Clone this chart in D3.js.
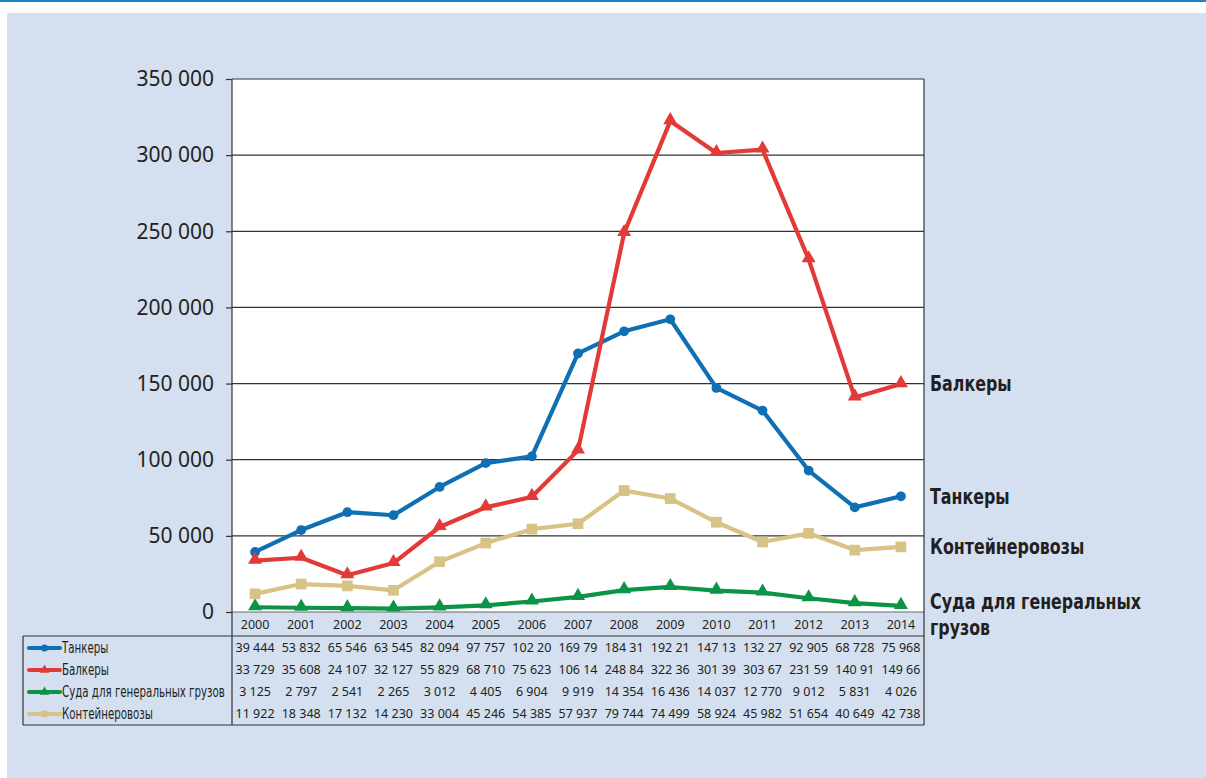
<!DOCTYPE html>
<html>
<head>
<meta charset="utf-8">
<script src="https://cdn.jsdelivr.net/npm/d3@7"></script>
<style>
  body { margin: 0; background: #fff; }
  svg { display: block; }
  .num { font-family: "Noto Sans", sans-serif; }
  .cond { font-family: "DejaVu Sans Condensed", "DejaVu Sans", sans-serif; }
</style>
</head>
<body>
<div id="content"></div>
<script>
var years = [2000, 2001, 2002, 2003, 2004, 2005, 2006, 2007, 2008, 2009, 2010, 2011, 2012, 2013, 2014];

var tankers = [39444, 53832, 65546, 63545, 82094, 97757, 102200, 169790, 184310, 192210, 147130, 132270, 92905, 68728, 75968];
var bulkers = [33729, 35608, 24107, 32127, 55829, 68710, 75623, 106140, 248840, 322360, 301390, 303670, 231590, 140910, 149660];
var generalCargo = [3125, 2797, 2541, 2265, 3012, 4405, 6904, 9919, 14354, 16436, 14037, 12770, 9012, 5831, 4026];
var containers = [11922, 18348, 17132, 14230, 33004, 45246, 54385, 57937, 79744, 74499, 58924, 45982, 51654, 40649, 42738];

var yTicks = [0, 50000, 100000, 150000, 200000, 250000, 300000, 350000];

// table row order
var series = [
    { name: "Танкеры", values: tankers, color: "#0f6fb4", marker: "circle" },
    { name: "Балкеры", values: bulkers, color: "#e23a37", marker: "triangle" },
    { name: "Суда для генеральных грузов", values: generalCargo, color: "#0b9447", marker: "triangle" },
    { name: "Контейнеровозы", values: containers, color: "#d8c285", marker: "square" }
];

// labels on the right side of the plot
var endLabels = [
    { lines: ["Балкеры"], values: bulkers },
    { lines: ["Танкеры"], values: tankers },
    { lines: ["Контейнеровозы"], values: containers },
    { lines: ["Суда для генеральных", "грузов"], values: generalCargo, dy: -4 }
];

var width = 1206, height = 778;
var plot = { left: 232, right: 924, top: 79, bottom: 612 };
var table = { left: 23, top: 636, rowH: 22 };

var fmt = d3.formatLocale({ decimal: ",", thousands: " ", grouping: [3], currency: ["", ""] }).format(",d");

var svg = d3.select("#content").append("svg")
    .attr("width", width)
    .attr("height", height);

// page background
svg.append("rect").attr("x", 0).attr("y", 0).attr("width", width).attr("height", 2).attr("fill", "#1c86c4");
svg.append("rect").attr("x", 7).attr("y", 13).attr("width", width - 7).attr("height", height - 13).attr("fill", "#d4dff0");

var xScale = d3.scaleBand()
    .domain(years)
    .range([plot.left, plot.right]);

var yScale = d3.scaleLinear()
    .domain([0, 350000])
    .range([plot.bottom, plot.top]);

svg.append("rect")
    .attr("x", plot.left).attr("y", plot.top)
    .attr("width", plot.right - plot.left).attr("height", plot.bottom - plot.top)
    .attr("fill", "#fff");

// grid lines + y axis
var yAxis = d3.axisLeft(yScale)
    .tickValues(yTicks)
    .tickSize(6)
    .tickPadding(12)
    .tickFormat(fmt);

var yg = svg.append("g")
    .attr("transform", "translate(" + plot.left + ",0)")
    .call(yAxis);
yg.select(".domain").remove();
yg.selectAll(".tick line").attr("stroke", "#333").attr("stroke-width", 1.2);
yg.selectAll(".tick text")
    .attr("class", "num")
    .attr("fill", "#231f20")
    .style("font-size", "21px");

svg.append("g")
    .selectAll("line")
    .data(yTicks)
    .enter()
    .append("line")
    .attr("x1", plot.left).attr("x2", plot.right)
    .attr("y1", function (d) { return yScale(d); })
    .attr("y2", function (d) { return yScale(d); })
    .attr("stroke", function (d) { return d == 0 ? "#666" : "#333"; })
    .attr("stroke-width", 1.2);

// table frame
var tableBottom = table.top + series.length * table.rowH + 1;
var frame = svg.append("g").attr("stroke", "#333").attr("stroke-width", 1.2).attr("fill", "none");
frame.append("line").attr("x1", plot.left).attr("x2", plot.left).attr("y1", plot.top).attr("y2", tableBottom);
frame.append("line").attr("x1", plot.right).attr("x2", plot.right).attr("y1", plot.top).attr("y2", tableBottom);
frame.append("line").attr("x1", table.left).attr("x2", plot.right).attr("y1", table.top).attr("y2", table.top);
frame.append("line").attr("x1", table.left).attr("x2", plot.right).attr("y1", tableBottom).attr("y2", tableBottom);
frame.append("line").attr("x1", table.left).attr("x2", table.left).attr("y1", table.top).attr("y2", tableBottom);

// x axis: years row
var xAxis = d3.axisBottom(xScale).tickSize(0).tickPadding(8);
var xg = svg.append("g")
    .attr("transform", "translate(0," + plot.bottom + ")")
    .call(xAxis);
xg.select(".domain").remove();
xg.selectAll(".tick text")
    .attr("class", "num")
    .attr("fill", "#231f20")
    .style("font-size", "12.5px");

function markerPath(type, size) {
    var sym = type == "circle" ? d3.symbolCircle : (type == "triangle" ? d3.symbolTriangle : d3.symbolSquare);
    return d3.symbol().type(sym).size(size)();
}

var markerSize = { circle: 75, triangle: 85, square: 115 };

var line = d3.line()
    .x(function (d, i) { return xScale(years[i]) + xScale.bandwidth() / 2; })
    .y(function (d) { return yScale(d); });

// draw in back-to-front order
var drawOrder = [series[2], series[3], series[0], series[1]];
drawOrder.forEach(function (s) {
    var g = svg.append("g");
    g.append("path")
        .datum(s.values)
        .attr("fill", "none")
        .attr("stroke", s.color)
        .attr("stroke-width", 4.2)
        .attr("stroke-linejoin", "round")
        .attr("d", line);
    g.selectAll("path.m")
        .data(s.values)
        .enter()
        .append("path")
        .attr("class", "m")
        .attr("fill", s.color)
        .attr("transform", function (d, i) {
            var dy = s.marker == "triangle" ? -1 : 0;
            return "translate(" + (xScale(years[i]) + xScale.bandwidth() / 2) + "," + (yScale(d) + dy) + ")";
        })
        .attr("d", markerPath(s.marker, markerSize[s.marker]));
});

// table rows
series.forEach(function (s, r) {
    var cy = table.top + table.rowH * r + 12;
    var row = svg.append("g");
    row.append("line")
        .attr("x1", 29).attr("x2", 60)
        .attr("y1", cy).attr("y2", cy)
        .attr("stroke", s.color).attr("stroke-width", 4).attr("stroke-linecap", "round");
    row.append("path")
        .attr("transform", "translate(44.5," + cy + ")")
        .attr("fill", s.color)
        .attr("d", markerPath(s.marker, 40));
    row.append("text")
        .attr("class", "cond")
        .attr("transform", "translate(62," + cy + ") scale(0.76,1)")
        .attr("dy", "0.35em")
        .attr("fill", "#231f20")
        .style("font-size", "15px")
        .text(s.name);
    row.selectAll("text.v")
        .data(s.values)
        .enter()
        .append("text")
        .attr("class", "v num")
        .attr("x", function (d, i) { return xScale(years[i]) + xScale.bandwidth() / 2; })
        .attr("y", cy)
        .attr("dy", "0.35em")
        .attr("text-anchor", "middle")
        .attr("fill", "#231f20")
        .style("font-size", "12.5px")
        .text(function (d) { return fmt(d).slice(0, 6); });
});

// right-hand labels
endLabels.forEach(function (l) {
    var y = yScale(l.values[l.values.length - 1]) + (l.dy || 0);
    var t = svg.append("text")
        .attr("class", "cond")
        .attr("transform", "translate(930," + y + ") scale(0.84,1)")
        .attr("fill", "#231f20")
        .style("font-size", "21px")
        .style("font-weight", "bold");
    l.lines.forEach(function (txt, i) {
        t.append("tspan").attr("x", 0).attr("dy", i == 0 ? "0.35em" : "1.24em").text(txt);
    });
});
</script>
</body>
</html>
